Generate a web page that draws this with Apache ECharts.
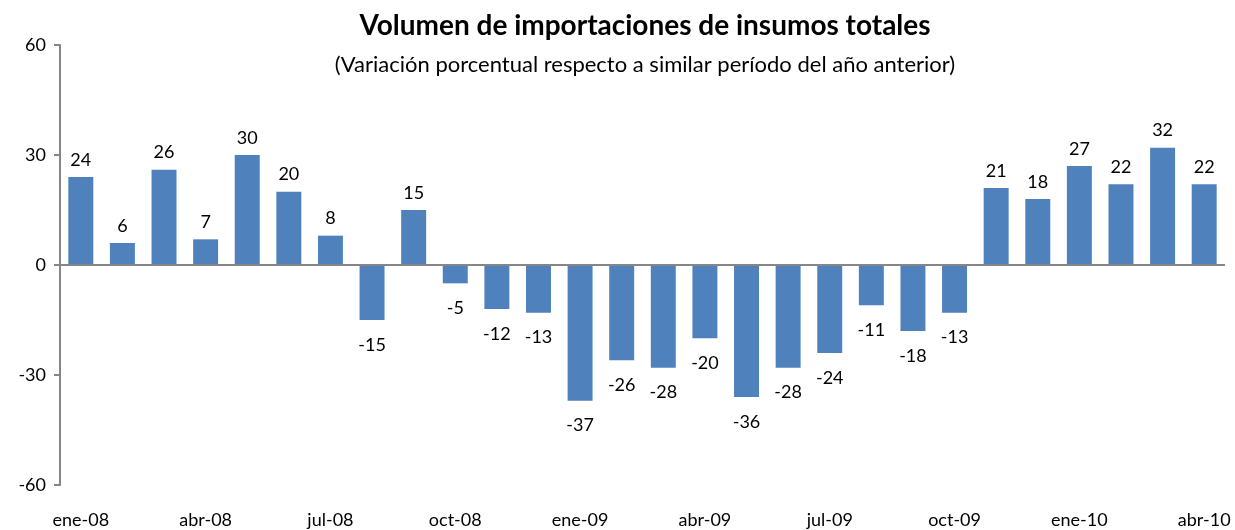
<!DOCTYPE html>
<html>
<head>
<meta charset="utf-8">
<script src="https://cdn.jsdelivr.net/npm/echarts@6/dist/echarts.min.js"></script>
<style>
  html, body { margin: 0; padding: 0; background: #fff; }
  #chart { width: 1235px; height: 530px; }
</style>
</head>
<body>
<div id="chart"></div>
<script>
// meses ene-08 .. abr-10
const months = ['ene-08','feb-08','mar-08','abr-08','may-08','jun-08','jul-08','ago-08','sep-08','oct-08','nov-08','dic-08',
  'ene-09','feb-09','mar-09','abr-09','may-09','jun-09','jul-09','ago-09','sep-09','oct-09','nov-09','dic-09',
  'ene-10','feb-10','mar-10','abr-10']
const values = [24, 6, 26, 7, 30, 20, 8, -15, 15, -5, -12, -13,
  -37, -26, -28, -20, -36, -28, -24, -11, -18, -13, 21, 18,
  27, 22, 32, 22]
const yTicks = [-60, -30, 0, 30, 60]

const font = 'Lato, "Open Sans", sans-serif'
const chart = echarts.init(document.getElementById('chart'))

let option = {
  backgroundColor: '#fff',
  animation: false,
  title: {
    text: 'Volumen de importaciones de insumos totales',
    subtext: '(Variación porcentual respecto a similar período del año anterior)',
    left: 640,
    textAlign: 'center',
    top: 7,
    itemGap: 14,
    textStyle: { fontFamily: font, fontSize: 28, fontWeight: 'bold', color: '#000' },
    subtextStyle: { fontFamily: font, fontSize: 22, color: '#000' }
  },
  grid: { left: 60, right: 10, top: 45, bottom: 45 },
  xAxis: {
    type: 'category',
    data: months,
    axisLine: { show: false, onZero: false },
    axisTick: { show: false },
    axisLabel: { interval: 2, margin: 26, fontFamily: font, fontSize: 18, color: '#000' }
  },
  yAxis: {
    type: 'value',
    min: yTicks[0],
    max: yTicks[yTicks.length - 1],
    interval: 30,
    axisLine: { show: true, lineStyle: { color: '#868686', width: 2 } },
    axisTick: { show: true, length: 6, lineStyle: { color: '#868686', width: 2 } },
    splitLine: { show: false },
    axisLabel: { margin: 14, fontFamily: font, fontSize: 18, color: '#000' }
  },
  series: [{
    type: 'bar',
    data: values,
    barCategoryGap: '40%',
    itemStyle: { color: '#4F81BD' },
    label: {
      show: true,
      distance: 8,
      fontFamily: font,
      fontSize: 18,
      color: '#000'
    },
    markLine: {
      silent: true,
      symbol: 'none',
      label: { show: false },
      lineStyle: { color: '#868686', width: 2, type: 'solid' },
      data: [{ yAxis: 0 }]
    }
  }]
}
// etiquetas negativas debajo de la barra
option.series[0].data = values.map(v => ({
  value: v,
  label: v < 0 ? { position: 'bottom', distance: 16 } : { position: 'top' }
}))
chart.setOption(option)
</script>
</body>
</html>
